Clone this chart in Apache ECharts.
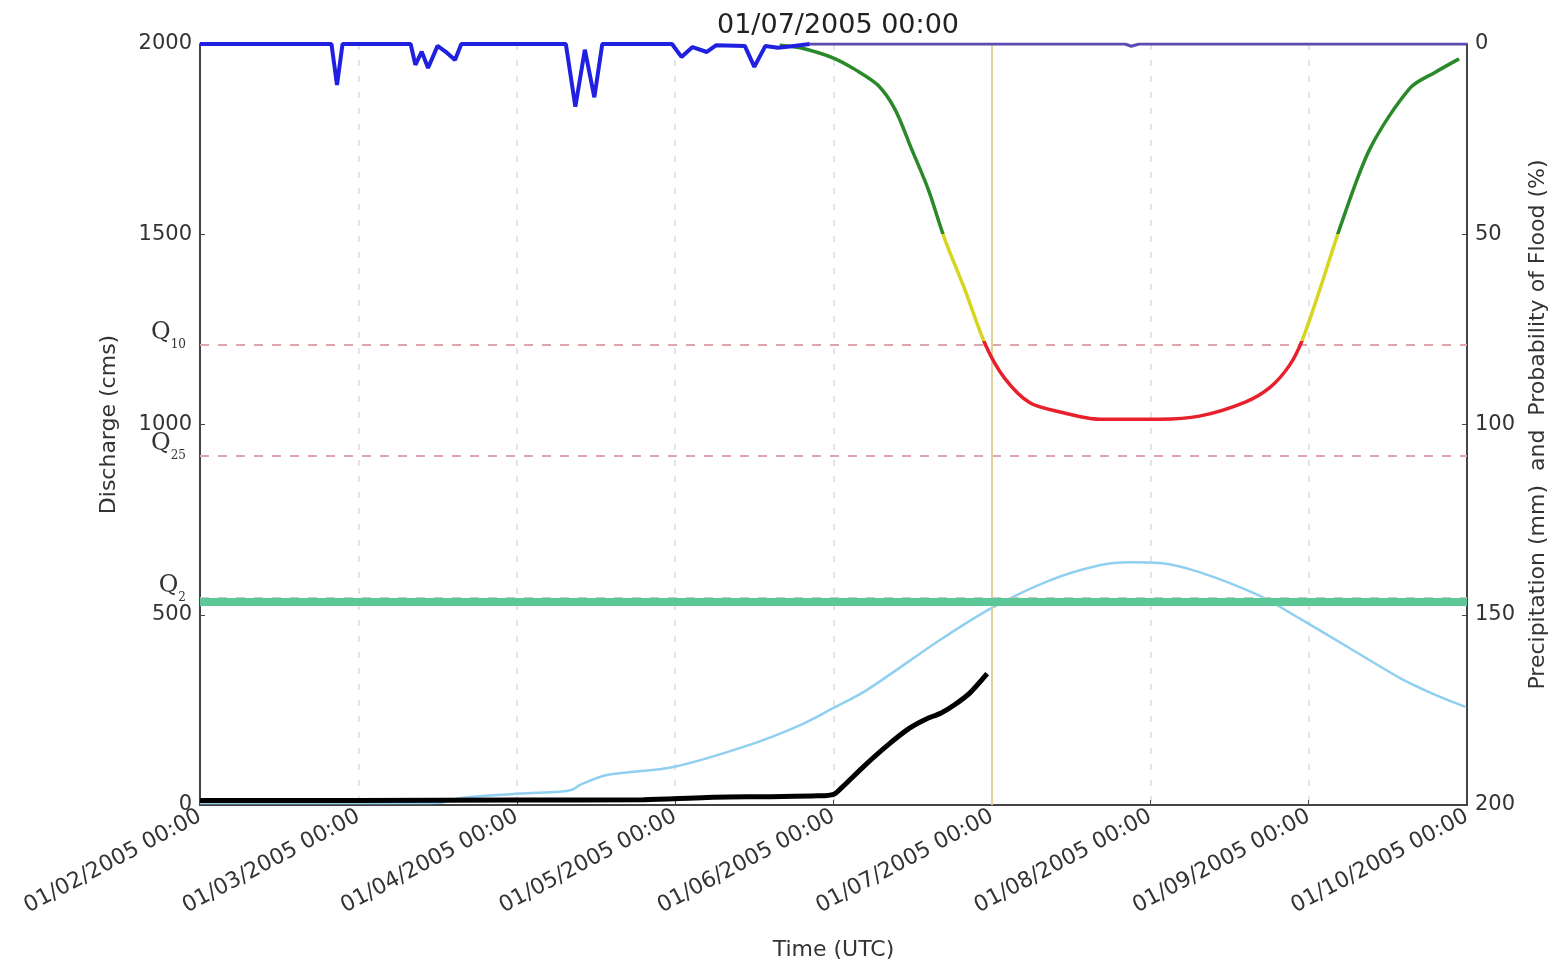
<!DOCTYPE html>
<html><head><meta charset="utf-8">
<script src="https://cdn.jsdelivr.net/npm/echarts@6/dist/echarts.min.js"></script>
<style>html,body{margin:0;padding:0;background:#fff}#c{width:1562px;height:967px}</style>
</head><body><div id="c"></div>
<script>
// ---- data (x = months since 01/02/2005) ----
const monthLabels = ['01/02/2005 00:00','01/03/2005 00:00','01/04/2005 00:00','01/05/2005 00:00','01/06/2005 00:00','01/07/2005 00:00','01/08/2005 00:00','01/09/2005 00:00','01/10/2005 00:00'];
const titleText = '01/07/2005 00:00';
const precipitation = [[0,0],[0.83,0],[0.865,10.8],[0.90,0],[1.33,0],[1.36,5.5],[1.40,2],[1.44,6.3],[1.50,0.5],[1.55,2],[1.61,4.2],[1.65,0],[2.31,0],[2.37,16.5],[2.43,1.5],[2.49,14],[2.54,0],[2.98,0],[3.04,3.4],[3.11,0.8],[3.20,2.1],[3.26,0.3],[3.44,0.5],[3.50,6],[3.57,0.5],[3.65,1],[3.75,0.5],[3.85,0],[5.84,0],[5.88,0.6],[5.93,0],[8,0]];
const floodProbability = [[3.66,0.3],[3.79,1],[4.0,3.7],[4.14,6.8],[4.28,10.8],[4.39,17.3],[4.49,27.3],[4.60,38.4],[4.70,51],[4.83,64.6],[4.96,79.1],[5.08,87.8],[5.24,94.3],[5.43,96.7],[5.68,98.6],[6.06,98.6],[6.31,97.8],[6.60,94.1],[6.76,90.1],[6.88,84.4],[6.96,77.8],[7.07,64.6],[7.21,46.8],[7.39,27.3],[7.64,11.6],[7.80,7.4],[7.95,3.9]];
const forecastDischarge = [[0,5],[1,5],[1.52,6],[1.64,18],[2.02,30],[2.27,35],[2.35,40],[2.40,53],[2.57,79],[2.99,100],[3.47,158],[3.79,210],[4.0,255],[4.21,302],[4.67,433],[5.0,518],[5.37,591],[5.68,630],[5.87,638],[6.06,636],[6.31,612],[6.69,550],[6.94,491],[7.26,412],[7.58,333],[7.83,284],[7.99,258]];
const observedDischarge = [[0,12],[1,12],[2,13],[2.8,14],[3.2,20],[3.6,22],[3.9,24],[4.0,28],[4.05,45],[4.2,105],[4.35,160],[4.48,202],[4.58,225],[4.68,242],[4.76,262],[4.86,294],[4.97,345]];
const returnPeriodNames = ['10','25','2'];
const returnPeriodLevels = [1209, 917, 544];
const warningLevel = 534;
const currentMonth = 5;
const precipSplit = 3.85;

const FONT = 'DejaVu Sans';
const chart = echarts.init(document.getElementById('c'), null, {renderer:'canvas'});
const qRich = {
  q:{fontFamily:'DejaVu Serif', fontSize:24, color:'#333', padding:[0,0,6,0], verticalAlign:'bottom'},
  s:{fontFamily:'DejaVu Serif', fontSize:12, color:'#333', verticalAlign:'bottom'}
};
chart.setOption({
  animation:false,
  backgroundColor:'#fff',
  title:{text:titleText, left:833, top:7, textAlign:'center',
    textStyle:{fontFamily:FONT, fontSize:27, fontWeight:'normal', color:'#222'}},
  grid:{left:200, right:95, top:44, bottom:162, outerBoundsMode:'none', containLabel:false},
  xAxis:{type:'value', min:0, max:8, interval:1,
    name:'Time (UTC)', nameLocation:'middle', nameGap:134,
    nameTextStyle:{fontFamily:FONT, fontSize:22, color:'#333'},
    axisLine:{lineStyle:{color:'#444', width:2}},
    axisTick:{inside:true, length:5, lineStyle:{color:'#444'}},
    axisLabel:{rotate:28, margin:10, fontFamily:FONT, fontSize:22, color:'#333',
      formatter:v=>monthLabels[Math.round(v)]},
    splitLine:{show:true, lineStyle:{color:'#dcdcdc', width:1.5, type:[6,10]}}},
  yAxis:[
    {type:'value', min:0, max:2000, interval:500, position:'left',
     name:'Discharge (cms)', nameLocation:'middle', nameGap:80, nameRotate:90,
     nameTextStyle:{fontFamily:FONT, fontSize:22, color:'#333'},
     axisLine:{show:true, lineStyle:{color:'#444', width:2}},
     axisTick:{show:true, inside:true, length:5},
     axisLabel:{fontFamily:FONT, fontSize:21, color:'#333', margin:8, formatter:v=>String(v)},
     splitLine:{show:false}},
    {type:'value', min:0, max:200, interval:50, position:'right', inverse:true,
     name:'Precipitation (mm)  and  Probability of Flood (%)', nameLocation:'middle', nameGap:60, nameRotate:90,
     nameTextStyle:{fontFamily:FONT, fontSize:22, color:'#333'},
     axisLine:{show:true, lineStyle:{color:'#444', width:2}},
     axisTick:{show:true, inside:true, length:5},
     axisLabel:{fontFamily:FONT, fontSize:21, color:'#333', margin:8, formatter:v=>String(v)},
     splitLine:{show:false}}
  ],
  visualMap:[
    {show:false, type:'piecewise', seriesIndex:4, dimension:1,
     pieces:[{lt:50, color:'#2a8a2a'},{gte:50, lt:78, color:'#d6d620'},{gte:78, color:'#e8202c'}]}
  ],
  series:[
    {name:'marks', type:'line', yAxisIndex:0, data:[], z:1, silent:true,
     markLine:{symbol:'none', silent:true, animation:false,
       data:[
         ...returnPeriodLevels.map((lv,i)=>({yAxis:lv,
           lineStyle:{color: i<2 ? '#e0a4ac' : '#c8c8c8', width:2, type:[9,9]},
           label:{show:true, position:'start', distance:14, offset:[0,-9],
             formatter:'{q|Q}{s|'+returnPeriodNames[i]+'}', rich:qRich}})),
         {xAxis:currentMonth, lineStyle:{color:'#e4cf9c', width:2, type:'solid'}, label:{show:false}}
       ]}},
    {name:'forecast', type:'line', yAxisIndex:0, data:forecastDischarge, smooth:0.3, symbol:'none', z:2,
     lineStyle:{color:'#8fd0f0', width:2.5}},
    {name:'observed', type:'line', yAxisIndex:0, data:observedDischarge, smooth:0.3, symbol:'none', z:3,
     lineStyle:{color:'#000', width:5}},
    {name:'warning', type:'line', yAxisIndex:0, data:[], z:4, silent:true,
     markLine:{symbol:'none', silent:true, animation:false,
       data:[{yAxis:warningLevel, lineStyle:{color:'#5cc898', width:8, type:'solid'}, label:{show:false}}]}},
    {name:'probability', type:'line', yAxisIndex:1, data:floodProbability, smooth:0.3, symbol:'none', z:5,
     lineStyle:{width:3.5}},
    {name:'precipitation', type:'line', yAxisIndex:1, data:precipitation.filter(p=>p[0]<=precipSplit), symbol:'none', z:7,
     lineStyle:{width:4, color:'#2020e0'}},
    {name:'precipitation2', type:'line', yAxisIndex:1, data:precipitation.filter(p=>p[0]>=precipSplit), symbol:'none', z:6,
     lineStyle:{width:3, color:'#5a4cb0'}}
  ]
});
</script></body></html>
